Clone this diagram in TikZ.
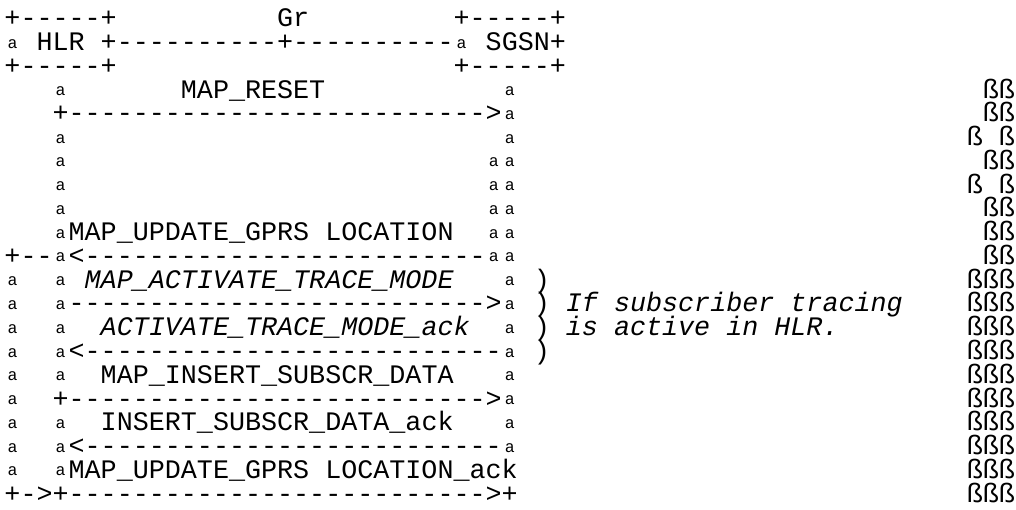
\documentclass[tikz,border=0pt]{standalone}
\usepackage{fontspec}
\setmonofont{Liberation Mono}
\usepackage{tikz}
\newcommand\ordA{\makebox[16.04pt]{\raisebox{2.5pt}{\fontsize{16.5pt}{16.5pt}\selectfont a}}}
\newcommand\dashrun[1]{\foreach\i in {1,...,#1}{-}}
\tikzset{
  map-text/.style={anchor=base west, inner sep=0pt, outer sep=0pt,
    text height=16pt, text depth=3pt,
    font=\ttfamily\fontsize{26.73pt}{26.73pt}\selectfont},
  map-msg/.style={map-text, font=\ttfamily\itshape\fontsize{26.73pt}{26.73pt}\selectfont}
}

\begin{document}
\begin{tikzpicture}[x=16.04pt, y=-23.75pt]
  \useasboundingbox (-4.5pt,27pt) rectangle (1011.5pt,-483pt);
  % HLR and SGSN boxes on the Gr interface
  \node[map-text] (hlr-top) at (0,0) {+\dashrun{5}+};
  \node[map-text] (gr) at (17,0) {Gr};
  \node[map-text] (sgsn-top) at (28,0) {+\dashrun{5}+};
  \node[map-text] (gr-line) at (0,1) {\ordA{} HLR +\dashrun{10}+\dashrun{10}\ordA{} SGSN+};
  \node[map-text] (hlr-bot) at (0,2) {+\dashrun{5}+};
  \node[map-text] (sgsn-bot) at (28,2) {+\dashrun{5}+};

  % vertical rails
  \foreach \r in {11,...,19} \node[map-text] (outer-rail-\r) at (0,\r) {\ordA};
  \foreach \r in {3,5,6,7,8,9,10,11,12,13,14,15,17,18,19} \node[map-text] (hlr-rail-\r) at (3,\r) {\ordA};
  \foreach \r in {6,...,10} \node[map-text] (sgsn-inner-\r) at (30,\r) {\ordA};
  \foreach \r in {3,...,18} \node[map-text] (sgsn-rail-\r) at (31,\r) {\ordA};

  % messages
  \node[map-text] (reset) at (11,3) {MAP\_RESET};
  \node[map-text] (reset-arrow) at (3,4) {+\dashrun{26}>};
  \node[map-text] (update) at (4,9) {MAP\_UPDATE\_GPRS LOCATION};
  \node[map-text] (update-tail) at (0,10) {+\dashrun{2}};
  \node[map-text] (update-arrow) at (4,10) {<\dashrun{25}};
  \node[map-msg] (trace) at (5,11) {MAP\_ACTIVATE\_TRACE\_MODE};
  \node[map-text] (trace-arrow) at (4,12) {\dashrun{26}>};
  \node[map-msg] (trace-ack) at (6,13) {ACTIVATE\_TRACE\_MODE\_ack};
  \node[map-text] (trace-ack-arrow) at (4,14) {<\dashrun{26}};
  \node[map-text] (insert) at (6,15) {MAP\_INSERT\_SUBSCR\_DATA};
  \node[map-text] (insert-arrow) at (3,16) {+\dashrun{26}>};
  \node[map-text] (insert-ack) at (6,17) {INSERT\_SUBSCR\_DATA\_ack};
  \node[map-text] (insert-ack-arrow) at (4,18) {<\dashrun{26}};
  \node[map-text] (update-ack) at (4,19) {MAP\_UPDATE\_GPRS LOCATION\_ack};
  \node[map-text] (update-ack-arrow) at (0,20) {+->+\dashrun{26}>+};

  % trace condition
  \foreach \r in {11,...,14} \node[map-text] (cond-\r) at (33,\r) {)};
  \node[map-msg] (cond-a) at (35,12) {If subscriber tracing};
  \node[map-msg] (cond-b) at (35,13) {is active in HLR.};

  % right-hand filler column
  \foreach \r in {3,4,6,8,9,10} \node[map-text] (fill-\r) at (61,\r) {ßß};
  \foreach \r in {5,7} \node[map-text] (fill-\r) at (60,\r) {ß ß};
  \foreach \r in {11,...,20} \node[map-text] (fill-\r) at (60,\r) {ßßß};
\end{tikzpicture}
\end{document}
